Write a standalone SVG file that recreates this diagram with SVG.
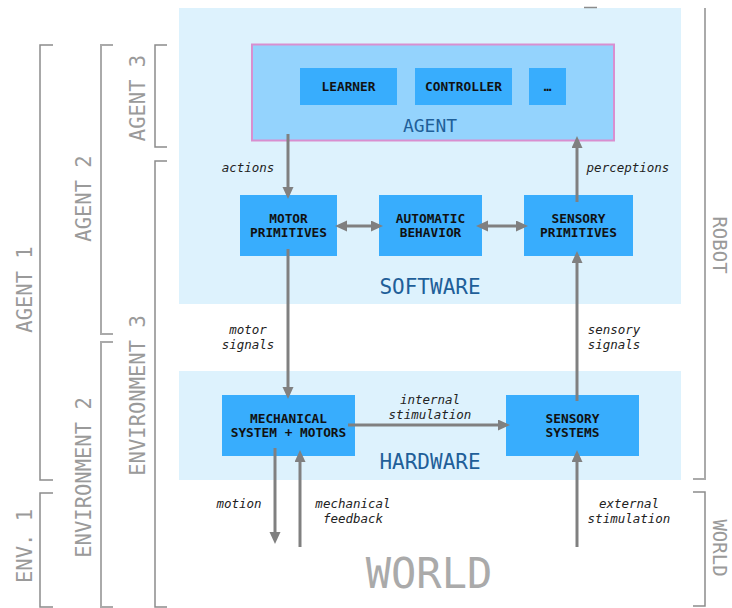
<svg xmlns="http://www.w3.org/2000/svg" width="732" height="608" viewBox="0 0 732 608">
<style>
.panel{fill:#ddf2fd}
.node{fill:#38adfd}
.nl{font-family:"DejaVu Sans Mono","Liberation Mono",monospace;font-weight:bold;font-size:12.8px;fill:#111;text-anchor:middle}
.el{font-family:"DejaVu Sans Mono","Liberation Mono",monospace;font-style:italic;font-size:12.5px;fill:#222;text-anchor:middle}
.sec{font-family:"DejaVu Sans Mono","Liberation Mono",monospace;font-size:21px;fill:#1f5f99;text-anchor:middle}
.br{fill:none;stroke:#8c8c8c;stroke-width:1.5}
.bt{font-family:"DejaVu Sans Mono","Liberation Mono",monospace;font-size:20.5px;fill:#9a9a9a;text-anchor:middle}
.c{stroke:#808080;stroke-width:3;fill:none;marker-end:url(#ah)}
.d{marker-start:url(#ah)}
</style>
<defs>
<marker id="ah" markerUnits="userSpaceOnUse" markerWidth="13" markerHeight="12" refX="8" refY="5.5" orient="auto-start-reverse">
<path d="M0,0 L12,5.5 L0,11 z" fill="#808080"/>
</marker>
</defs>
<g id="panels">
<rect id="software-panel" class="panel" x="179" y="8" width="502" height="296"/>
<rect id="hardware-panel" class="panel" x="179" y="371" width="502" height="109"/>
<text class="sec" x="430" y="294">SOFTWARE</text>
<text class="sec" x="430" y="469">HARDWARE</text>
</g>
<g id="agent">
<rect x="252" y="44.5" width="362" height="96" fill="#94d3fd" stroke="#d98fd0" stroke-width="2"/>
<text class="sec" x="430" y="132" style="font-size:18px">AGENT</text>
</g>
<g id="learner"><rect class="node" x="300" y="68" width="97" height="37"/><text class="nl" x="348.5" y="91">LEARNER</text></g>
<g id="controller"><rect class="node" x="415" y="68" width="97" height="37"/><text class="nl" x="463.5" y="91">CONTROLLER</text></g>
<g id="more"><rect class="node" x="529" y="68" width="37" height="37"/><text class="nl" x="547.5" y="91">…</text></g>
<g id="motor-primitives"><rect class="node" x="240" y="195" width="97" height="61"/><text class="nl" x="288.5" y="223">MOTOR</text><text class="nl" x="288.5" y="237">PRIMITIVES</text></g>
<g id="automatic-behavior"><rect class="node" x="379" y="195" width="103" height="61"/><text class="nl" x="430.5" y="223">AUTOMATIC</text><text class="nl" x="430.5" y="237">BEHAVIOR</text></g>
<g id="sensory-primitives"><rect class="node" x="524" y="195" width="109" height="61"/><text class="nl" x="578.5" y="223">SENSORY</text><text class="nl" x="578.5" y="237">PRIMITIVES</text></g>
<g id="mechanical-system"><rect class="node" x="222" y="395" width="133" height="61"/><text class="nl" x="288.5" y="422.5">MECHANICAL</text><text class="nl" x="288.5" y="437">SYSTEM + MOTORS</text></g>
<g id="sensory-systems"><rect class="node" x="506" y="395" width="133" height="61"/><text class="nl" x="572.5" y="422.5">SENSORY</text><text class="nl" x="572.5" y="437">SYSTEMS</text></g>
<g id="world">
<text x="429" y="588" style="font-family:'DejaVu Sans Mono','Liberation Mono',monospace;font-size:42px;fill:#aaa;text-anchor:middle">WORLD</text>
</g>
<g id="connectors">
<line class="c" x1="288" y1="134" x2="288" y2="195"/>
<line class="c" x1="577" y1="202" x2="577" y2="140"/>
<line class="c" x1="288" y1="249" x2="288" y2="395"/>
<line class="c" x1="577" y1="401" x2="577" y2="255"/>
<line class="c d" x1="339" y1="226" x2="379" y2="226"/>
<line class="c d" x1="480" y1="226" x2="524" y2="226"/>
<line class="c" x1="348" y1="425" x2="506" y2="425"/>
<line class="c" x1="275" y1="448" x2="275" y2="540"/>
<line class="c" x1="300" y1="547" x2="300" y2="454"/>
<line class="c" x1="577" y1="547" x2="577" y2="454"/>
<text class="el" x="248" y="172">actions</text>
<text class="el" x="628" y="172">perceptions</text>
<text class="el" x="248" y="334">motor</text>
<text class="el" x="248" y="349">signals</text>
<text class="el" x="614" y="334">sensory</text>
<text class="el" x="614" y="349">signals</text>
<text class="el" x="430" y="404">internal</text>
<text class="el" x="430" y="419">stimulation</text>
<text class="el" x="239" y="508">motion</text>
<text class="el" x="353" y="508">mechanical</text>
<text class="el" x="353" y="523">feedback</text>
<text class="el" x="629" y="508">external</text>
<text class="el" x="629" y="523">stimulation</text>
</g>
<g id="brackets">
<polyline class="br" points="53,45 40,45 40,480 53,480"/>
<polyline class="br" points="53,493 40,493 40,607 53,607"/>
<polyline class="br" points="113,45 101,45 101,334 113,334" style="stroke:#aaa;stroke-width:2"/>
<polyline class="br" points="113,342 101,342 101,607 113,607" style="stroke:#aaa;stroke-width:2"/>
<polyline class="br" points="167,45 155,45 155,147 167,147"/>
<polyline class="br" points="167,161 155,161 155,607 167,607"/>
<polyline class="br" points="705,8 705,479 693,479" style="stroke:#aaa;stroke-width:2"/>
<line class="br" x1="584" y1="7.5" x2="597" y2="7.5"/>
<polyline class="br" points="693,492 705,492 705,606 693,606"/>
<text class="bt" transform="translate(32,289.5) rotate(-90)">AGENT 1</text>
<text class="bt" transform="translate(32,546) rotate(-90)">ENV. 1</text>
<text class="bt" transform="translate(91,198.5) rotate(-90)">AGENT 2</text>
<text class="bt" transform="translate(91,477.5) rotate(-90)">ENVIRONMENT 2</text>
<text class="bt" transform="translate(145,98) rotate(-90)">AGENT 3</text>
<text class="bt" transform="translate(145,395.5) rotate(-90)">ENVIRONMENT 3</text>
<text class="bt" transform="translate(713,245) rotate(90)" style="font-size:19px">ROBOT</text>
<text class="bt" transform="translate(713,548) rotate(90)" style="font-size:19px">WORLD</text>
</g>
</svg>
